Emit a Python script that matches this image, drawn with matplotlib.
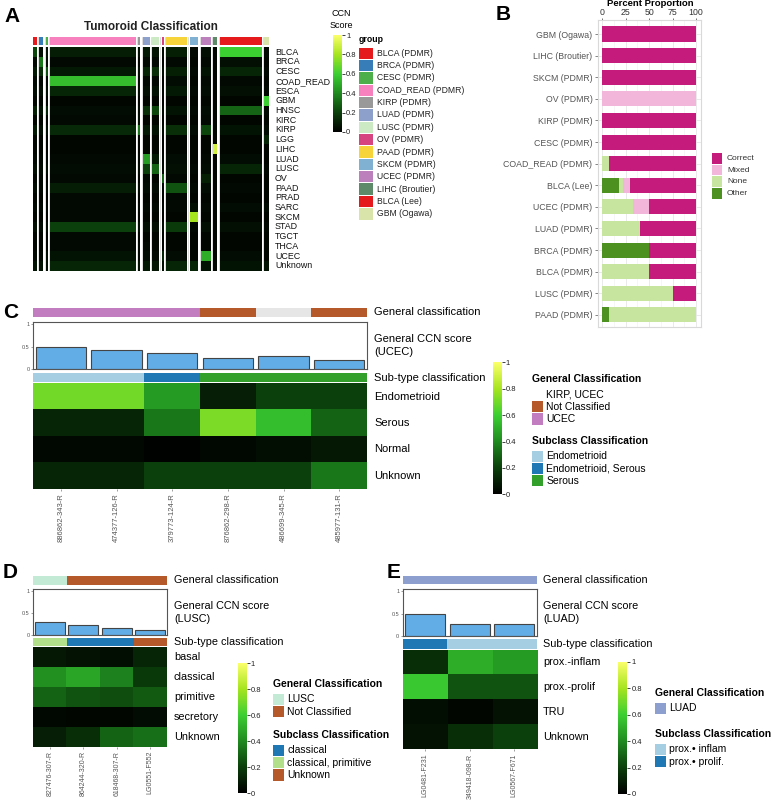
import numpy as np
import matplotlib
matplotlib.use("Agg")
import matplotlib.pyplot as plt
from matplotlib.colors import LinearSegmentedColormap
from matplotlib.patches import Rectangle

plt.rcParams['font.family'] = ['Liberation Sans', 'DejaVu Sans']

W, H = 778, 800

# ---------------- data: panel A ----------------
cancer_rows = ['BLCA', 'BRCA', 'CESC', 'COAD_READ', 'ESCA', 'GBM', 'HNSC', 'KIRC', 'KIRP',
               'LGG', 'LIHC', 'LUAD', 'LUSC', 'OV', 'PAAD', 'PRAD', 'SARC', 'SKCM', 'STAD',
               'TGCT', 'THCA', 'UCEC', 'Unknown']
tumoroid_groups = ['BLCA (PDMR)', 'BRCA (PDMR)', 'CESC (PDMR)', 'COAD_READ (PDMR)', 'KIRP (PDMR)',
                   'LUAD (PDMR)', 'LUSC (PDMR)', 'OV (PDMR)', 'PAAD (PDMR)', 'SKCM (PDMR)',
                   'UCEC (PDMR)', 'LIHC (Broutier)', 'BLCA (Lee)', 'GBM (Ogawa)']
group_colors = ['#e41a1c', '#377eb8', '#4daf4a', '#f781bf', '#999999', '#8da0cb', '#ccebc5',
                '#d6457f', '#f7d53a', '#80b1d3', '#bc80bd', '#5f8a6a', '#e41a1c', '#d9e4aa']
group_ncols = [4, 4, 2, 86, 2, 7, 7, 2, 21, 9, 10, 4, 42, 5]
# mean CCN score of each group (one list per group, one value per cancer row)
tumoroid_scores = [
    [0.22, 0.03, 0.08, 0.03, 0.04, 0.02, 0.10, 0.02, 0.08, 0.02, 0.02, 0.03, 0.05, 0.02, 0.04, 0.02, 0.03, 0.02, 0.05, 0.02, 0.02, 0.03, 0.06],
    [0.05, 0.35, 0.15, 0.03, 0.05, 0.02, 0.06, 0.02, 0.05, 0.02, 0.02, 0.03, 0.04, 0.03, 0.03, 0.02, 0.03, 0.02, 0.04, 0.02, 0.02, 0.03, 0.06],
    [0.06, 0.04, 0.25, 0.03, 0.05, 0.02, 0.12, 0.02, 0.05, 0.02, 0.02, 0.03, 0.05, 0.02, 0.03, 0.02, 0.03, 0.02, 0.04, 0.02, 0.02, 0.05, 0.05],
    [0.09, 0.03, 0.08, 0.55, 0.12, 0.02, 0.04, 0.03, 0.13, 0.02, 0.02, 0.03, 0.04, 0.03, 0.09, 0.03, 0.03, 0.03, 0.20, 0.03, 0.03, 0.06, 0.12],
    [0.05, 0.02, 0.05, 0.03, 0.04, 0.02, 0.04, 0.05, 0.35, 0.02, 0.02, 0.03, 0.04, 0.02, 0.04, 0.02, 0.03, 0.02, 0.05, 0.02, 0.03, 0.03, 0.06],
    [0.08, 0.03, 0.12, 0.03, 0.05, 0.02, 0.15, 0.02, 0.08, 0.02, 0.02, 0.45, 0.20, 0.03, 0.04, 0.02, 0.03, 0.02, 0.05, 0.02, 0.03, 0.04, 0.08],
    [0.07, 0.03, 0.15, 0.03, 0.06, 0.02, 0.22, 0.02, 0.06, 0.02, 0.02, 0.08, 0.30, 0.02, 0.04, 0.02, 0.03, 0.02, 0.05, 0.02, 0.02, 0.03, 0.07],
    [0.04, 0.02, 0.05, 0.02, 0.03, 0.02, 0.04, 0.02, 0.04, 0.02, 0.02, 0.03, 0.04, 0.30, 0.03, 0.02, 0.03, 0.02, 0.04, 0.02, 0.02, 0.12, 0.05],
    [0.10, 0.03, 0.10, 0.04, 0.08, 0.02, 0.06, 0.02, 0.15, 0.02, 0.02, 0.04, 0.05, 0.03, 0.25, 0.03, 0.03, 0.02, 0.18, 0.02, 0.02, 0.04, 0.12],
    [0.03, 0.02, 0.03, 0.02, 0.03, 0.02, 0.03, 0.02, 0.04, 0.02, 0.02, 0.02, 0.03, 0.02, 0.03, 0.02, 0.05, 0.80, 0.03, 0.02, 0.02, 0.02, 0.12],
    [0.05, 0.03, 0.06, 0.03, 0.04, 0.02, 0.04, 0.03, 0.22, 0.02, 0.02, 0.03, 0.04, 0.10, 0.04, 0.02, 0.03, 0.02, 0.05, 0.02, 0.02, 0.50, 0.06],
    [0.02, 0.02, 0.02, 0.02, 0.02, 0.02, 0.02, 0.02, 0.02, 0.02, 0.90, 0.02, 0.02, 0.02, 0.02, 0.02, 0.02, 0.02, 0.02, 0.02, 0.02, 0.02, 0.03],
    [0.60, 0.05, 0.12, 0.03, 0.05, 0.02, 0.30, 0.02, 0.06, 0.02, 0.02, 0.04, 0.12, 0.02, 0.03, 0.02, 0.04, 0.02, 0.05, 0.02, 0.02, 0.04, 0.06],
    [0.03, 0.02, 0.03, 0.02, 0.03, 0.60, 0.03, 0.02, 0.04, 0.12, 0.02, 0.02, 0.03, 0.02, 0.02, 0.02, 0.04, 0.02, 0.03, 0.02, 0.02, 0.02, 0.06],
]

# ---------------- data: panel B ----------------
b_categories = ['GBM (Ogawa)', 'LIHC (Broutier)', 'SKCM (PDMR)', 'OV (PDMR)', 'KIRP (PDMR)',
                'CESC (PDMR)', 'COAD_READ (PDMR)', 'BLCA (Lee)', 'UCEC (PDMR)', 'LUAD (PDMR)',
                'BRCA (PDMR)', 'BLCA (PDMR)', 'LUSC (PDMR)', 'PAAD (PDMR)']
pct_other = [0, 0, 0, 0, 0, 0, 0, 18.5, 0, 0, 50, 0, 0, 7]
pct_none = [0, 0, 0, 0, 0, 0, 7, 3.7, 33.3, 40, 0, 50, 75, 93]
pct_mixed = [0, 0, 0, 100, 0, 0, 0, 7.4, 16.7, 0, 0, 0, 0, 0]
pct_correct = [100, 100, 100, 0, 100, 100, 93, 70.4, 50, 60, 50, 50, 25, 0]
b_labels = ['Correct', 'Mixed', 'None', 'Other']
b_colors = ['#c51b7d', '#f1b6da', '#c7e59f', '#4d9221']

# ---------------- data: panel C ----------------
c_samples = ['886862-343-R', '474377-126-R', '379773-124-R', '876862-298-R', '486699-345-R', '485977-131-R']
c_general = ['UCEC', 'UCEC', 'UCEC', 'Not Classified', 'KIRP, UCEC', 'Not Classified']
c_ccn = [0.49, 0.43, 0.355, 0.24, 0.30, 0.195]
c_subtype = ['Endometrioid', 'Endometrioid', 'Endometrioid, Serous', 'Serous', 'Serous', 'Serous']
c_rows = ['Endometrioid', 'Serous', 'Normal', 'Unknown']
c_scores = [[0.70, 0.70, 0.45, 0.10, 0.20, 0.20],
            [0.12, 0.12, 0.35, 0.72, 0.55, 0.30],
            [0.03, 0.03, 0.01, 0.03, 0.05, 0.08],
            [0.12, 0.12, 0.20, 0.20, 0.20, 0.35]]

# ---------------- data: panel D ----------------
d_samples = ['827476-307-R', '864244-320-R', '618468-307-R', 'LG0551-F552']
d_general = ['LUSC', 'Not Classified', 'Not Classified', 'Not Classified']
d_ccn = [0.30, 0.235, 0.165, 0.13]
d_subtype = ['classical, primitive', 'classical', 'classical', 'Unknown']
d_rows = ['basal', 'classical', 'primitive', 'secretory', 'Unknown']
d_scores = [[0.08, 0.06, 0.05, 0.12],
            [0.42, 0.48, 0.38, 0.18],
            [0.30, 0.25, 0.24, 0.27],
            [0.03, 0.02, 0.02, 0.04],
            [0.10, 0.15, 0.30, 0.33]]

# ---------------- data: panel E ----------------
e_samples = ['LG0481-F231', '349418-098-R', 'LG0567-F671']
e_general = ['LUAD', 'LUAD', 'LUAD']
e_ccn = [0.50, 0.26, 0.27]
e_subtype = ['prox.\u2022 prolif.', 'prox.\u2022 inflam', 'prox.\u2022 inflam']
e_rows = ['prox.-inflam', 'prox.-prolif', 'TRU', 'Unknown']
e_scores = [[0.15, 0.50, 0.45],
            [0.58, 0.25, 0.25],
            [0.05, 0.02, 0.06],
            [0.06, 0.15, 0.20]]

general_colors = {'UCEC': '#c17dc0', 'Not Classified': '#b5582a', 'KIRP, UCEC': '#e6e6e6',
                  'LUSC': '#c2ead5', 'LUAD': '#8d9fcf'}
subtype_colors = {'Endometrioid': '#a6cee3', 'Endometrioid, Serous': '#1f78b4', 'Serous': '#33a02c',
                  'classical': '#1f78b4', 'classical, primitive': '#b2df8a', 'Unknown': '#b5582a',
                  'prox.\u2022 inflam': '#a6cee3', 'prox.\u2022 prolif.': '#1f78b4'}

ccn_cmap = LinearSegmentedColormap.from_list(
    'ccn', [(0, '#000000'), (0.2, '#0b3f0b'), (0.4, '#1f8a1f'), (0.6, '#3ccf32'),
            (0.8, '#a6e41f'), (1, '#fbff6a')])

fig = plt.figure(figsize=(W / 100, H / 100), dpi=100)


def rect(x0, y0, x1, y1):
    return [x0 / W, 1 - y1 / H, (x1 - x0) / W, (y1 - y0) / H]


def ftext(x, y, s, **kw):
    kw.setdefault('va', 'center')
    kw.setdefault('ha', 'left')
    fig.text(x / W, 1 - y / H, s, **kw)


def swatch(x, y, w, h, color):
    fig.add_artist(Rectangle((x / W, 1 - (y + h) / H), w / W, h / H,
                             transform=fig.transFigure, color=color, lw=0))


def colorbar(x0, y0, x1, y1, fs=5.5):
    cax = fig.add_axes(rect(x0, y0, x1, y1))
    sm = plt.cm.ScalarMappable(cmap=ccn_cmap, norm=plt.Normalize(0, 1))
    cb = fig.colorbar(sm, cax=cax, ticks=[0, 0.2, 0.4, 0.6, 0.8, 1])
    cb.ax.set_yticklabels(['0', '0.2', '0.4', '0.6', '0.8', '1'])
    cb.outline.set_visible(False)
    cb.ax.tick_params(labelsize=fs, length=2, width=0.6, pad=1, colors='#222222')
    return cb


# ================= panel A =================
ftext(4, 17, 'A', fontsize=15, fontweight='bold')
ftext(151, 27, 'Tumoroid Classification', ha='center', fontsize=8.5, fontweight='bold',
      color='#222222')

hx0, hx1 = 33, 269
gap = 2.5
total = sum(group_ncols) + gap * (len(group_ncols) - 1)
ax_ann = fig.add_axes(rect(hx0, 36.7, hx1, 45.3))
ax_hm = fig.add_axes(rect(hx0, 47.3, hx1, 270.7))
cursor = 0
for g in range(len(tumoroid_groups)):
    n = group_ncols[g]
    vals = np.array(tumoroid_scores[g])[:, None].repeat(n, axis=1)
    ax_hm.pcolormesh(np.arange(n + 1) + cursor, np.arange(len(cancer_rows) + 1), vals,
                     cmap=ccn_cmap, vmin=0, vmax=1)
    ax_ann.add_patch(Rectangle((cursor, 0), n, 1, color=group_colors[g], lw=0))
    if g > 0:
        for a in (ax_hm, ax_ann):
            a.axvline(cursor - gap / 2, color='#d0d0d0', lw=0.5)
    cursor += n + gap
for a in (ax_hm, ax_ann):
    a.set_xlim(0, total)
    a.axis('off')
ax_hm.set_ylim(len(cancer_rows), 0)
ax_ann.set_ylim(0, 1)
row_h = (270.7 - 47.3) / len(cancer_rows)
for i, r in enumerate(cancer_rows):
    ftext(275, 47.3 + row_h * (i + 0.5), r, fontsize=6.4, color='#111111')

ftext(341, 14, 'CCN', ha='center', fontsize=6.5)
ftext(341, 25, 'Score', ha='center', fontsize=6.5)
colorbar(333, 35, 342, 132)

ftext(359, 40, 'group', fontsize=6.3, fontweight='bold')
sw_h = (220 - 47) / len(tumoroid_groups)
for i, g in enumerate(tumoroid_groups):
    swatch(359, 47 + i * sw_h + 0.5, 14, sw_h - 1, group_colors[i])
    ftext(377, 47 + (i + 0.5) * sw_h, g, fontsize=6.2, color='#222222')

# ================= panel B =================
ftext(496, 15, 'B', fontsize=15, fontweight='bold')
axb = fig.add_axes(rect(598, 20, 701, 327))
ypos = np.arange(len(b_categories))
left = np.zeros(len(b_categories))
for vals, col in zip([pct_other, pct_none, pct_mixed, pct_correct],
                     ['#4d9221', '#c7e59f', '#f1b6da', '#c51b7d']):
    axb.barh(ypos, vals, left=left, height=0.7, color=col, lw=0, zorder=3)
    left += np.array(vals)
axb.set_xlim(-4.3, 105.3)
axb.set_ylim(len(b_categories) - 0.44, -0.65)
axb.xaxis.tick_top()
axb.set_xticks([0, 25, 50, 75, 100])
axb.set_xticks([12.5, 37.5, 62.5, 87.5], minor=True)
axb.set_yticks(ypos)
axb.set_yticklabels(b_categories)
axb.tick_params(axis='y', labelsize=6.3, colors='#555555', length=2, width=0.5, pad=2)
axb.tick_params(axis='x', labelsize=6.3, colors='#333333', length=1.5, width=0.5, pad=0.5)
axb.tick_params(axis='x', which='minor', length=0)
axb.grid(True, which='major', color='#e6e6e6', lw=0.6, zorder=0)
axb.grid(True, which='minor', axis='x', color='#f0f0f0', lw=0.4, zorder=0)
for s in axb.spines.values():
    s.set_color('#d9d9d9')
    s.set_linewidth(0.8)
ftext(650, 4, 'Percent Proportion', ha='center', fontsize=6.8, fontweight='bold')
for i, (lab, col) in enumerate(zip(b_labels, b_colors)):
    swatch(712, 153 + i * 11.7, 10, 10.5, col)
    ftext(727, 158.5 + i * 11.7, lab, fontsize=6, color='#333333')


# ================= panels C, D, E =================
def subpanel(x0, x1, y_gen, y_bar, y_sub, y_hm, samples, general, ccn, subtype, rows, scores,
             tag, lab_x, lab_fs, tick_fs):
    n = len(samples)
    ax_g = fig.add_axes(rect(x0, y_gen[0], x1, y_gen[1]))
    ax_g.bar(np.arange(n), 1, width=1, color=[general_colors[g] for g in general], lw=0)
    ax_g.set_xlim(-0.5, n - 0.5)
    ax_g.set_ylim(0, 1)
    ax_g.axis('off')

    ax_s = fig.add_axes(rect(x0, y_bar[0], x1, y_bar[1]))
    ax_s.bar(np.arange(n), ccn, width=0.9, color='#62ade6', edgecolor='#444444', lw=0.8)
    ax_s.set_xlim(-0.5, n - 0.5)
    ax_s.set_ylim(0, 1.05)
    ax_s.set_xticks([])
    ax_s.set_yticks([0, 0.5, 1])
    ax_s.set_yticklabels(['0', '0.5', '1'])
    ax_s.tick_params(axis='y', labelsize=4, length=1.5, width=0.4, pad=1, colors='#555555')
    for s in ax_s.spines.values():
        s.set_color('#555555')
        s.set_linewidth(0.8)

    ax_t = fig.add_axes(rect(x0, y_sub[0], x1, y_sub[1]))
    ax_t.bar(np.arange(n), 1, width=1, color=[subtype_colors[s] for s in subtype], lw=0)
    ax_t.set_xlim(-0.5, n - 0.5)
    ax_t.set_ylim(0, 1)
    ax_t.axis('off')

    ax_h = fig.add_axes(rect(x0, y_hm[0], x1, y_hm[1]))
    ax_h.imshow(np.array(scores), cmap=ccn_cmap, vmin=0, vmax=1, aspect='auto',
                interpolation='nearest')
    ax_h.set_yticks([])
    ax_h.set_xticks(np.arange(n))
    ax_h.set_xticklabels(samples, rotation=90, fontsize=tick_fs, color='#555555')
    ax_h.tick_params(axis='x', length=1.5, width=0.4, pad=1.5, colors='#555555')
    for s in ax_h.spines.values():
        s.set_visible(False)

    ftext(lab_x, (y_gen[0] + y_gen[1]) / 2, 'General classification', fontsize=lab_fs)
    ftext(lab_x, (y_bar[0] + y_bar[1]) / 2 - 6.5, 'General CCN score', fontsize=lab_fs)
    ftext(lab_x, (y_bar[0] + y_bar[1]) / 2 + 6.5, '(' + tag + ')', fontsize=lab_fs)
    ftext(lab_x, (y_sub[0] + y_sub[1]) / 2, 'Sub-type classification', fontsize=lab_fs)
    rh = (y_hm[1] - y_hm[0]) / len(rows)
    for i, r in enumerate(rows):
        ftext(lab_x, y_hm[0] + rh * (i + 0.5), r, fontsize=lab_fs)


def class_legend(x, y_title, gen_items, y_sub_title, sub_items, fs, step):
    ftext(x, y_title, 'General Classification', fontsize=fs, fontweight='bold')
    for i, g in enumerate(gen_items):
        yy = y_title + step * (i + 1.25)
        swatch(x, yy - step / 2 + 0.5, 11, step - 1, general_colors[g] if g != 'KIRP, UCEC' else 'white')
        ftext(x + 14, yy, g, fontsize=fs)
    ftext(x, y_sub_title, 'Subclass Classification', fontsize=fs, fontweight='bold')
    for i, s in enumerate(sub_items):
        yy = y_sub_title + step * (i + 1.25)
        swatch(x, yy - step / 2 + 0.5, 11, step - 1, subtype_colors[s])
        ftext(x + 14, yy, s, fontsize=fs)


# C
ftext(3, 313, 'C', fontsize=15, fontweight='bold')
subpanel(33, 367, (307.7, 316.7), (321.7, 369.3), (372.7, 382.3), (383.3, 489),
         c_samples, c_general, c_ccn, c_subtype, c_rows, c_scores, 'UCEC', 374, 8, 5.5)
colorbar(492.7, 362.3, 501.7, 494.3)
class_legend(532.3, 379.3, ['KIRP, UCEC', 'Not Classified', 'UCEC'], 441,
             ['Endometrioid', 'Endometrioid, Serous', 'Serous'], 7.5, 12.2)

# D
ftext(3, 572, 'D', fontsize=15, fontweight='bold')
subpanel(33, 167, (576, 584.7), (589, 635.3), (637.7, 646), (647.3, 746.7),
         d_samples, d_general, d_ccn, d_subtype, d_rows, d_scores, 'LUSC', 174, 7.8, 5.0)
colorbar(237.7, 663, 246.7, 793)
class_legend(273, 684, ['LUSC', 'Not Classified'], 735,
             ['classical', 'classical, primitive', 'Unknown'], 7.5, 12.3)

# E
ftext(387, 572, 'E', fontsize=15, fontweight='bold')
subpanel(402.7, 536.7, (576, 584), (589, 636), (638.7, 648.7), (650, 749.3),
         e_samples, e_general, e_ccn, e_subtype, e_rows, e_scores, 'LUAD', 543, 7.8, 5.0)
colorbar(617.7, 661.7, 627.3, 794)
class_legend(655, 693, ['LUAD'], 734, ['prox.\u2022 inflam', 'prox.\u2022 prolif.'], 7.5, 12.3)

fig.savefig('out.png', dpi=100, facecolor='white')
